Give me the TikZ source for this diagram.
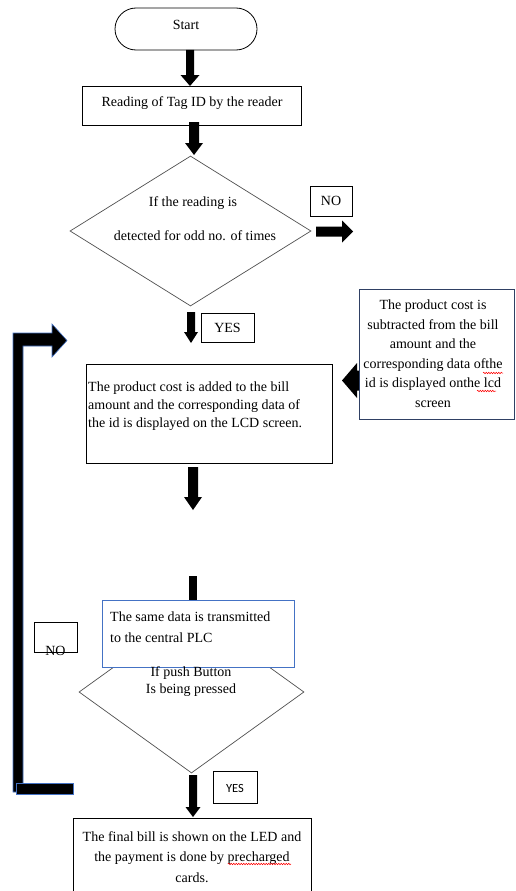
\documentclass[tikz,border=0pt]{standalone}
\usepackage{fontspec}
\setmainfont{Liberation Serif}
\newfontfamily\calibrifont{Carlito}
\usetikzlibrary{calc,shapes.geometric,decorations.pathmorphing}
\definecolor{boxblue}{RGB}{68,114,196}
\definecolor{navyedge}{RGB}{47,64,100}
\definecolor{diagray}{RGB}{80,80,80}
% block arrow pointing down: #1 tail, #2 tip, #3 shaft half width, #4 head half width, #5 head length
\newcommand\blkdown[5]{%
  \fill ($(#2|-#1)+(-#3,0)$) -- ($(#2|-#1)+(#3,0)$) -- ($(#2)+(#3,-#5)$) -- ($(#2)+(#4,-#5)$)
    -- (#2) -- ($(#2)+(-#4,-#5)$) -- ($(#2)+(-#3,-#5)$) -- cycle;}
\begin{document}
\begin{tikzpicture}[x=1pt,y=-1pt,
  bx/.style={draw=black,line width=0.8pt,fill=white,inner sep=0pt},
  bbx/.style={draw=boxblue,line width=0.9pt,fill=white,inner sep=0pt},
  dia/.style={diamond,draw=diagray,line width=0.7pt,inner sep=0pt},
  txt/.style={font=\fontsize{14}{18}\selectfont,inner sep=0pt},
  loopbar/.style={fill=black,draw=boxblue,line width=0.6pt},
  squig/.style={draw=red,line width=0.5pt,decorate,decoration={snake,amplitude=0.8pt,segment length=2.5pt}}
]
\useasboundingbox (0,0) rectangle (515,891);
\fill[white] (0,0) rectangle (515,891);

% Start
\node[bx,rounded corners=21pt,minimum width=142pt,minimum height=42pt] (start) at (186,29) {};
\node[txt] (tstart) at (186,25) {Start};

% Reading
\node[bx,minimum width=219pt,minimum height=39pt] (reader) at (191.5,105.5) {};
\node[txt] (treader) at (192,103) {Reading of Tag ID by the reader};
\coordinate (a1t) at (190,50);
\coordinate (a1h) at (190,86);
\blkdown{a1t}{a1h}{4}{9.5}{11}

% decision 1
\node[dia,minimum width=241pt,minimum height=150pt] (d1) at (190.5,231) {};
\node[txt] (td1a) at (193,203) {If the reading is};
\node[txt] (td1b) at (195,236) {detected for odd no. of times};
\coordinate (a2t) at (194,122);
\coordinate (a2h) at (194,155);
\blkdown{a2t}{a2h}{5}{9}{12}

% NO (top)
\node[bx,minimum width=42pt,minimum height=30pt] (no1) at (331,201) {};
\node[txt] (tno1) at (331,201) {NO};
\coordinate (nat) at (316,231.5);
\coordinate (nah) at (353,231.5);
\fill ($(nat)+(0,-5)$) -- ($(nah)+(-11,-5)$) -- ($(nah)+(-11,-11)$) -- (nah)
  -- ($(nah)+(-11,11)$) -- ($(nah)+(-11,5)$) -- ($(nat)+(0,5)$) -- cycle;

% YES (top)
\node[bx,minimum width=53pt,minimum height=29pt] (yes1) at (227.5,327.5) {};
\node[txt] (tyes1) at (227.5,328) {YES};
\coordinate (a3t) at (191,312);
\coordinate (a3h) at (191,343);
\blkdown{a3t}{a3h}{4}{7}{11}

% product cost added
\node[bx,minimum width=246pt,minimum height=99pt] (added) at (209,413.5) {};
\node[txt,anchor=north west,align=left] (tadded) at (88,382)
  {The product cost is added to the bill\\amount and the corresponding data of\\the id is displayed on the LCD screen.};

% left arrow from subtracted box
\coordinate (lat) at (366,380.5);
\coordinate (lah) at (342,380.5);
\fill ($(lat)+(0,-10)$) -- ($(lah)+(15,-10)$) -- ($(lah)+(15,-17.5)$) -- (lah)
  -- ($(lah)+(15,17.5)$) -- ($(lah)+(15,10)$) -- ($(lat)+(0,10)$) -- cycle;

% product cost subtracted
\node[draw=navyedge,line width=0.8pt,fill=white,inner sep=0pt,minimum width=155pt,minimum height=130pt] (sub) at (436.5,354) {};
\node[txt,align=center,anchor=north,font=\fontsize{14}{19.5}\selectfont] (tsub) at (433,300)
  {The product cost is\\subtracted from the bill\\amount and the\\corresponding data ofthe\\id is displayed onthe lcd\\screen};

% arrow below added box
\coordinate (a4t) at (193,467);
\coordinate (a4h) at (193,510);
\blkdown{a4t}{a4h}{5}{9}{13}

% decision 2
\node[dia,minimum width=225pt,minimum height=162pt] (d2) at (191.5,692) {};
\coordinate (stubt) at (193,576);
\fill ($(stubt)+(-4,0)$) rectangle ($(stubt)+(4,40)$);

% PLC box
\node[bbx,minimum width=192pt,minimum height=67pt] (plc) at (198,633.5) {};
\node[txt,anchor=north west,align=left,font=\fontsize{14}{21}\selectfont] (tplc) at (110,612)
  {The same data is transmitted\\to the central PLC};
\node[txt,align=center,font=\fontsize{14}{17}\selectfont] (td2) at (191,681.5)
  {If push Button\\Is being pressed};

% NO (left)
\node[bx,minimum width=43pt,minimum height=30pt] (no2) at (55.5,637) {};
\node[txt] (tno2) at (55.5,651) {NO};

% loop back connector
\filldraw[loopbar] (13,792) -- (13,333) -- (52,333) -- (52,324) -- (67,340.5) -- (52,357)
  -- (52,346) -- (23,346) -- (23,792) -- cycle;
\filldraw[loopbar] (16,783) rectangle (73,794);

% YES (bottom)
\node[bx,minimum width=44pt,minimum height=32pt] (yes2) at (235,787) {};
\node[font=\calibrifont\fontsize{12.5}{14}\selectfont,inner sep=0pt] (tyes2) at (235,788) {YES};
\coordinate (a5t) at (193,775);
\coordinate (a5h) at (193,817);
\blkdown{a5t}{a5h}{4}{7.5}{10}

% final box
\node[bx,minimum width=238pt,minimum height=90pt] (final) at (192,863) {};
\node[txt,align=center,anchor=north,font=\fontsize{14}{20.5}\selectfont] (tfinal) at (192,831)
  {The final bill is shown on the LED and\\the payment is done by precharged\\cards.};

% spell-check underlines
\draw[squig] (483,373) -- (503,373);
\draw[squig] (477,391) -- (496,391);
\draw[squig] (228,864) -- (291,864);
\end{tikzpicture}
\end{document}
